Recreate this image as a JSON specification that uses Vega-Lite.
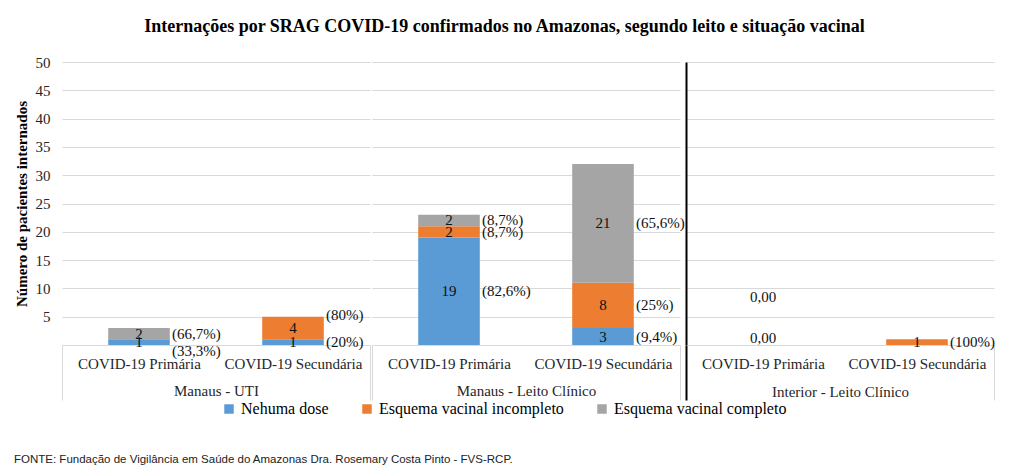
{
  "$schema": "https://vega.github.io/schema/vega-lite/v6.json",
  "padding": {"left": 14, "top": 18, "right": 5, "bottom": 5},
  "title": {"text": "Internações por SRAG COVID-19 confirmados no Amazonas, segundo leito e situação vacinal", "font": "Liberation Serif", "fontSize": 18, "fontWeight": "bold", "color": "#000", "offset": 19, "anchor": "middle"},
  "data": {"values": [
    {"grupo": "Manaus - UTI", "tipo": "COVID-19 Primária", "categoria": "Nehuma dose", "ordem": 1, "n": 1, "rotulo": "1", "pct": "(33,3%)"},
    {"grupo": "Manaus - UTI", "tipo": "COVID-19 Primária", "categoria": "Esquema vacinal completo", "ordem": 3, "n": 2, "rotulo": "2", "pct": "(66,7%)"},
    {"grupo": "Manaus - UTI", "tipo": "COVID-19 Secundária", "categoria": "Nehuma dose", "ordem": 1, "n": 1, "rotulo": "1", "pct": "(20%)"},
    {"grupo": "Manaus - UTI", "tipo": "COVID-19 Secundária", "categoria": "Esquema vacinal incompleto", "ordem": 2, "n": 4, "rotulo": "4", "pct": "(80%)"},
    {"grupo": "Manaus - Leito Clínico", "tipo": "COVID-19 Primária", "categoria": "Nehuma dose", "ordem": 1, "n": 19, "rotulo": "19", "pct": "(82,6%)"},
    {"grupo": "Manaus - Leito Clínico", "tipo": "COVID-19 Primária", "categoria": "Esquema vacinal incompleto", "ordem": 2, "n": 2, "rotulo": "2", "pct": "(8,7%)"},
    {"grupo": "Manaus - Leito Clínico", "tipo": "COVID-19 Primária", "categoria": "Esquema vacinal completo", "ordem": 3, "n": 2, "rotulo": "2", "pct": "(8,7%)"},
    {"grupo": "Manaus - Leito Clínico", "tipo": "COVID-19 Secundária", "categoria": "Nehuma dose", "ordem": 1, "n": 3, "rotulo": "3", "pct": "(9,4%)"},
    {"grupo": "Manaus - Leito Clínico", "tipo": "COVID-19 Secundária", "categoria": "Esquema vacinal incompleto", "ordem": 2, "n": 8, "rotulo": "8", "pct": "(25%)"},
    {"grupo": "Manaus - Leito Clínico", "tipo": "COVID-19 Secundária", "categoria": "Esquema vacinal completo", "ordem": 3, "n": 21, "rotulo": "21", "pct": "(65,6%)"},
    {"grupo": "Interior - Leito Clínico", "tipo": "COVID-19 Primária", "categoria": "Nehuma dose", "ordem": 1, "n": 0, "rotulo": "0,00", "pct": ""},
    {"grupo": "Interior - Leito Clínico", "tipo": "COVID-19 Primária", "categoria": "Esquema vacinal completo", "ordem": 3, "n": 0, "rotulo": "0,00", "pct": ""},
    {"grupo": "Interior - Leito Clínico", "tipo": "COVID-19 Secundária", "categoria": "Esquema vacinal incompleto", "ordem": 2, "n": 1, "rotulo": "1", "pct": "(100%)"}
  ]},
  "resolve": {"scale": {"color": "independent"}},
  "vconcat": [
    {
      "title": {"text": "FONTE: Fundação de Vigilância em Saúde do Amazonas Dra. Rosemary Costa Pinto - FVS-RCP.", "orient": "bottom", "anchor": "start", "font": "Liberation Sans", "fontSize": 11.5, "fontWeight": "normal", "color": "#222", "offset": 37},
      "spacing": 0,
      "hconcat": [
        {
          "width": 308, "height": 283,
          "transform": [
            {"filter": "datum.grupo === 'Manaus - UTI'"},
            {"stack": "n", "groupby": ["tipo"], "sort": [{"field": "ordem", "order": "ascending"}], "as": ["y0", "y1"]},
            {"calculate": "(datum.y0 + datum.y1) / 2", "as": "ymid"}
          ],
          "encoding": {"x": {"field": "tipo", "type": "nominal", "scale": {"domain": ["COVID-19 Primária", "COVID-19 Secundária"], "paddingInner": 0, "paddingOuter": 0}, "axis": {"title": "Manaus - UTI", "tickOpacity": {"condition": {"test": "datum.value === 'COVID-19 Primária'", "value": 0}, "value": 1}}}},
          "layer": [
            {"mark": {"type": "bar", "width": {"band": 0.4}}, "encoding": {
              "y": {"field": "y1", "type": "quantitative", "scale": {"domain": [0, 50], "nice": false}, "axis": {"title": "Número de pacientes internados", "values": [5, 10, 15, 20, 25, 30, 35, 40, 45, 50], "tickCount": 12}},
              "y2": {"field": "y0"},
              "color": {"field": "categoria", "type": "nominal", "scale": {"domain": ["Nehuma dose", "Esquema vacinal incompleto", "Esquema vacinal completo"], "range": ["#5B9BD5", "#ED7D31", "#A5A5A5"]}, "legend": {"title": null}}
            }},
            {"transform": [{"filter": "datum.n > 0"}], "mark": {"type": "text"}, "encoding": {"y": {"field": "ymid", "type": "quantitative", "title": "Número de pacientes internados"}, "text": {"field": "rotulo"}}},
            {"transform": [{"filter": "datum.n > 0 && datum.pct !== '(33,3%)' && datum.pct !== '(80%)'"}], "mark": {"type": "text", "align": "left", "dx": 33}, "encoding": {"y": {"field": "ymid", "type": "quantitative", "title": "Número de pacientes internados"}, "text": {"field": "pct"}}},
            {"transform": [{"filter": "datum.pct === '(33,3%)'"}], "mark": {"type": "text", "align": "left", "dx": 33, "dy": 9}, "encoding": {"y": {"field": "ymid", "type": "quantitative", "title": "Número de pacientes internados"}, "text": {"field": "pct"}}},
            {"transform": [{"filter": "datum.pct === '(80%)'"}], "mark": {"type": "text", "align": "left", "dx": 33, "dy": -13}, "encoding": {"y": {"field": "ymid", "type": "quantitative", "title": "Número de pacientes internados"}, "text": {"field": "pct"}}}
          ]
        },
        {
          "width": 308, "height": 283,
          "transform": [
            {"filter": "datum.grupo === 'Manaus - Leito Clínico'"},
            {"stack": "n", "groupby": ["tipo"], "sort": [{"field": "ordem", "order": "ascending"}], "as": ["y0", "y1"]},
            {"calculate": "(datum.y0 + datum.y1) / 2", "as": "ymid"}
          ],
          "encoding": {"x": {"field": "tipo", "type": "nominal", "scale": {"domain": ["COVID-19 Primária", "COVID-19 Secundária"], "paddingInner": 0, "paddingOuter": 0}, "axis": {"title": "Manaus - Leito Clínico", "tickOpacity": {"condition": {"test": "datum.value === 'COVID-19 Primária'", "value": 0}, "value": 1}}}},
          "layer": [
            {"mark": {"type": "bar", "width": {"band": 0.4}}, "encoding": {
              "y": {"field": "y1", "type": "quantitative", "scale": {"domain": [0, 50], "nice": false}, "axis": {"title": null, "labels": false, "values": [5, 10, 15, 20, 25, 30, 35, 40, 45, 50], "tickCount": 12}},
              "y2": {"field": "y0"},
              "color": {"field": "categoria", "type": "nominal", "scale": {"domain": ["Nehuma dose", "Esquema vacinal incompleto", "Esquema vacinal completo"], "range": ["#5B9BD5", "#ED7D31", "#A5A5A5"]}, "legend": {"title": null}}
            }},
            {"transform": [{"filter": "datum.n > 0"}], "mark": {"type": "text"}, "encoding": {"y": {"field": "ymid", "type": "quantitative", "title": null}, "text": {"field": "rotulo"}}},
            {"transform": [{"filter": "datum.n > 0"}], "mark": {"type": "text", "align": "left", "dx": 33}, "encoding": {"y": {"field": "ymid", "type": "quantitative", "title": null}, "text": {"field": "pct"}}}
          ]
        },
        {
          "width": 308, "height": 283,
          "transform": [
            {"filter": "datum.grupo === 'Interior - Leito Clínico'"},
            {"stack": "n", "groupby": ["tipo"], "sort": [{"field": "ordem", "order": "ascending"}], "as": ["y0", "y1"]},
            {"calculate": "(datum.y0 + datum.y1) / 2", "as": "ymid"}
          ],
          "encoding": {"x": {"field": "tipo", "type": "nominal", "scale": {"domain": ["COVID-19 Primária", "COVID-19 Secundária"], "paddingInner": 0, "paddingOuter": 0}, "axis": {"title": "Interior - Leito Clínico", "tickOpacity": {"condition": {"test": "datum.value === 'COVID-19 Primária'", "value": 0}, "value": 1}, "tickColor": {"condition": {"test": "datum.index < 0", "value": "#000"}, "value": "#d9d9d9"}, "tickWidth": {"condition": {"test": "datum.index < 0", "value": 2}, "value": 1}}}},
          "layer": [
            {"mark": {"type": "bar", "width": {"band": 0.4}}, "encoding": {
              "y": {"field": "y1", "type": "quantitative", "scale": {"domain": [0, 50], "nice": false}, "axis": {"title": null, "labels": false, "domain": true, "domainColor": "#000", "domainWidth": 2, "values": [5, 10, 15, 20, 25, 30, 35, 40, 45, 50], "tickCount": 12}},
              "y2": {"field": "y0"},
              "color": {"field": "categoria", "type": "nominal", "scale": {"domain": ["Nehuma dose", "Esquema vacinal incompleto", "Esquema vacinal completo"], "range": ["#5B9BD5", "#ED7D31", "#A5A5A5"]}, "legend": {"title": null}}
            }},
            {"transform": [{"filter": "datum.n > 0"}], "mark": {"type": "text"}, "encoding": {"y": {"field": "ymid", "type": "quantitative", "title": null}, "text": {"field": "rotulo"}}},
            {"transform": [{"filter": "datum.n > 0"}], "mark": {"type": "text", "align": "left", "dx": 33}, "encoding": {"y": {"field": "ymid", "type": "quantitative", "title": null}, "text": {"field": "pct"}}},
            {"transform": [{"filter": "datum.n === 0 && datum.categoria === 'Nehuma dose'"}], "mark": {"type": "text", "dy": -7}, "encoding": {"y": {"field": "ymid", "type": "quantitative", "title": null}, "text": {"field": "rotulo"}}},
            {"transform": [{"filter": "datum.n === 0 && datum.categoria === 'Esquema vacinal completo'"}], "mark": {"type": "text", "dy": -48}, "encoding": {"y": {"field": "ymid", "type": "quantitative", "title": null}, "text": {"field": "rotulo"}}}
          ]
        }
      ]
    }
  ],
  "config": {
    "view": {"stroke": null},
    "axisX": {"labelAngle": 0, "labelFont": "Liberation Serif", "labelFontSize": 15, "labelColor": "#262626", "labelPadding": -44, "ticks": true, "tickBand": "extent", "tickSize": 55, "tickColor": "#d9d9d9", "domainColor": "#d9d9d9", "titleFont": "Liberation Serif", "titleFontSize": 15, "titleFontWeight": "normal", "titleColor": "#262626", "titlePadding": -17},
    "axisY": {"grid": true, "gridColor": "#d9d9d9", "domain": false, "ticks": false, "labelOverlap": false, "labelFont": "Liberation Serif", "labelFontSize": 15, "labelColor": "#262626", "labelPadding": 12, "titleFont": "Liberation Serif", "titleFontSize": 15, "titleFontWeight": "bold", "titleColor": "#000", "titlePadding": 6},
    "legend": {"orient": "bottom", "direction": "horizontal", "symbolType": "square", "symbolSize": 90, "symbolStrokeWidth": 0, "labelFont": "Liberation Serif", "labelFontSize": 16, "labelColor": "#000", "labelLimit": 400, "columnPadding": 30, "offset": 0, "layout": {"bottom": {"anchor": "middle"}}},
    "text": {"font": "Liberation Serif", "fontSize": 15, "color": "#111"}
  }
}
